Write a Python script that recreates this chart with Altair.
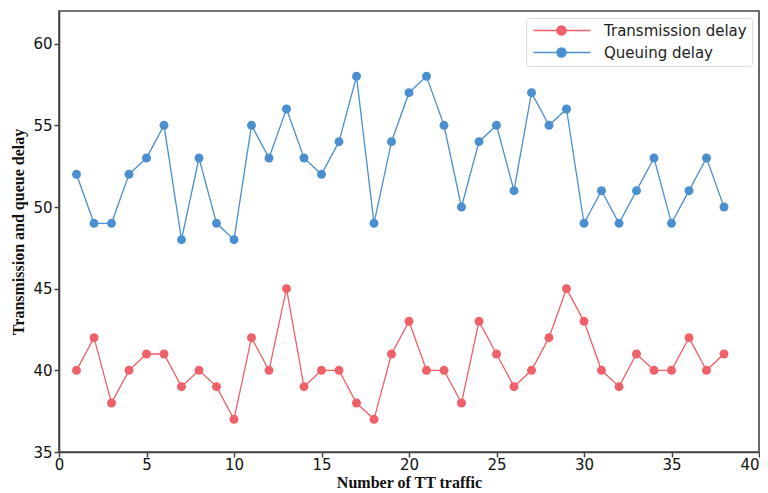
import altair as alt
import pandas as pd

x_vals = list(range(1, 39))
transmission = [40, 42, 38, 40, 41, 41, 39, 40, 39, 37, 42, 40, 45, 39, 40, 40, 38, 37, 41, 43,
                40, 40, 38, 43, 41, 39, 40, 42, 45, 43, 40, 39, 41, 40, 40, 42, 40, 41]
queuing = [52, 49, 49, 52, 53, 55, 48, 53, 49, 48, 55, 53, 56, 53, 52, 54, 58, 49, 54, 57,
           58, 55, 50, 54, 55, 51, 57, 55, 56, 49, 51, 49, 51, 53, 49, 51, 53, 50]
series_names = ["Transmission delay", "Queuing delay"]
series_colors = ["#ef6068", "#4a90d0"]

rows = []
for i, xv in enumerate(x_vals):
    rows.append({"x": xv, "y": transmission[i], "series": series_names[0]})
for i, xv in enumerate(x_vals):
    rows.append({"x": xv, "y": queuing[i], "series": series_names[1]})
df = pd.DataFrame(rows)

legend_symbol = "M-1,0H10.4M5.5,0A0.9,0.9,0,1,1,3.7,0A0.9,0.9,0,1,1,5.5,0Z"

color = alt.Color(
    "series:N",
    scale=alt.Scale(domain=series_names, range=series_colors),
    sort=series_names,
    legend=alt.Legend(
        title=None,
        orient="top-right",
        offset=7,
        symbolType=legend_symbol,
        symbolSize=100,
        symbolStrokeWidth=1.5,
        labelFont="DejaVu Sans",
        labelFontSize=15,
        labelColor="#222222",
        rowPadding=6,
        padding=5,
        strokeColor="#dddddd",
        cornerRadius=3,
        fillColor="white",
        labelOffset=58,
    ),
)

x_enc = alt.X(
    "x:Q",
    scale=alt.Scale(domain=[0, 40], nice=False),
    axis=alt.Axis(
        values=[0, 5, 10, 15, 20, 25, 30, 35, 40],
        title="Number of TT traffic",
        grid=False,
        labelAlign={"condition": {"test": "datum.value == 40", "value": "right"}, "value": "center"},
    ),
)
y_enc = alt.Y(
    "y:Q",
    scale=alt.Scale(domain=[35, 62], nice=False, zero=False),
    axis=alt.Axis(values=[35, 40, 45, 50, 55, 60], title="Transmission and queue delay", grid=False),
)

base = alt.Chart(df)
lines = base.mark_line(strokeWidth=1.3).encode(x=x_enc, y=y_enc, color=color, detail="series:N")
points = base.mark_point(filled=True, size=80, opacity=1, shape="circle").encode(
    x=x_enc, y=y_enc, color=color
)

chart = (
    alt.layer(lines, points)
    .properties(
        width=700,
        height=441,
        autosize=alt.AutoSizeParams(type="none"),
        padding={"top": 3, "left": 51, "right": 1, "bottom": 40},
    )
    .configure_view(stroke="#444444", strokeWidth=1.6)
    .configure_axis(
        domainColor="#444444",
        domainWidth=1.6,
        tickColor="#444444",
        tickWidth=1.5,
        tickSize=5,
        labelFont="DejaVu Sans",
        labelFontSize=15,
        labelColor="#111111",
        labelPadding=2,
        titleFont="Liberation Serif",
        titleFontWeight="bold",
        titleFontSize=16,
        titleColor="#111111",
    )
    .configure_axisY(titlePadding=6)
    .configure_axisX(titlePadding=2, labelPadding=0, labelFlush=False)
)

chart.save("out.html", embed_options={"renderer": "svg", "actions": False})
